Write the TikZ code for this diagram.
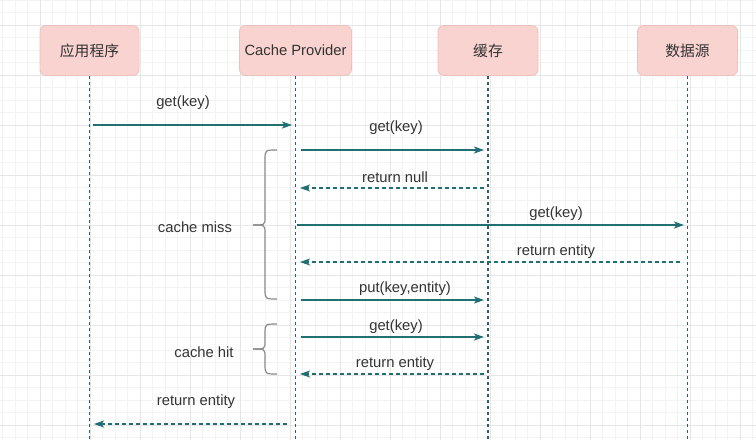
\documentclass[tikz,border=0pt]{standalone}
\usepackage{fontspec}
\setmainfont{Liberation Sans}
\newfontfamily\cjk{Noto Sans CJK SC}
\usetikzlibrary{arrows.meta}
\definecolor{gridminor}{HTML}{F3F3F3}
\definecolor{gridmajor}{HTML}{E6E6E6}
\definecolor{boxfill}{HTML}{F9D3CF}
\definecolor{boxline}{HTML}{EBC2BE}
\definecolor{msg}{HTML}{216E75}
\definecolor{life}{HTML}{2E5F68}
\definecolor{txt}{HTML}{333333}
\definecolor{bracec}{HTML}{8A8A8A}
\tikzset{
  actor/.style={draw=boxline, fill=boxfill, line width=0.8pt, rounded corners=6pt,
    minimum height=50pt, inner sep=0pt, text=txt, font=\fontsize{14.8}{16}\selectfont},
  lifeline/.style={draw=life, line width=1.4pt, dash pattern=on 3pt off 3pt},
  callmsg/.style={draw=msg, line width=1.4pt, -{Stealth[length=10pt,width=7pt,inset=2.5pt]}},
  retmsg/.style={draw=msg, line width=1.2pt, dash pattern=on 4pt off 3pt, -{Stealth[length=10pt,width=7pt,inset=2.5pt]}},
  lbl/.style={text=txt, font=\fontsize{14.8}{16}\selectfont, inner sep=0pt},
  bracepath/.style={draw=bracec, line width=1.2pt},
}
\newcommand{\drawbrace}[3]{% top y, bottom y, mid y
  \draw[bracepath] (277,#1) .. controls (265,#1) .. (265,#1+10) -- (265,#3-8)
     .. controls (265,#3) .. (253,#3);
  \draw[bracepath] (253,#3) .. controls (265,#3) .. (265,#3+8) -- (265,#2-10)
     .. controls (265,#2) .. (277,#2);
}
\begin{document}
\begin{tikzpicture}[x=1pt,y=-1pt]
\useasboundingbox (0,0) rectangle (756,440);
\fill[white] (0,0) rectangle (756,440);
% grid
\foreach \i in {0,...,60} {
  \draw[gridminor, line width=0.7pt] ({2.5+12.5*\i},0) -- ({2.5+12.5*\i},440);
}
\foreach \i in {0,...,35} {
  \draw[gridminor, line width=0.7pt] (0,{12.5*\i}) -- (756,{12.5*\i});
}
\foreach \i in {0,...,15} {
  \draw[gridmajor, line width=0.9pt] ({40+50*\i},0) -- ({40+50*\i},440);
}
\foreach \i in {0,...,8} {
  \draw[gridmajor, line width=0.9pt] (0,{25+50*\i}) -- (756,{25+50*\i});
}
% actors
\node[actor, minimum width=99pt] (app) at (89.5,50.5) {\cjk 应用程序};
\node[actor, minimum width=112pt] (prov) at (295.5,50.5) {Cache Provider};
\node[actor, minimum width=100pt] (cache) at (488,50.5) {\cjk 缓存};
\node[actor, minimum width=100pt] (db) at (687.5,50.5) {\cjk 数据源};
% lifeline ends
\coordinate (appE) at (89,440);
\coordinate (provE) at (295,440);
\coordinate (cacheE) at (488,440);
\coordinate (dbE) at (687,440);
\draw[lifeline] (app.south) -- (app.south |- appE);
\draw[lifeline] (prov.south) -- (prov.south |- provE);
\draw[lifeline] (cache.south) -- (cache.south |- cacheE);
\draw[lifeline] (db.south) -- (db.south |- dbE);
% message end points
\coordinate (m1a) at (93,125);  \coordinate (m1b) at (292,125);
\coordinate (m2a) at (301,150); \coordinate (m2b) at (484,150);
\coordinate (m3a) at (484,188); \coordinate (m3b) at (300,188);
\coordinate (m4a) at (297,225); \coordinate (m4b) at (684,225);
\coordinate (m5a) at (680,262); \coordinate (m5b) at (300,262);
\coordinate (m6a) at (301,300); \coordinate (m6b) at (484,300);
\coordinate (m7a) at (301,337); \coordinate (m7b) at (484,337);
\coordinate (m8a) at (484,374); \coordinate (m8b) at (300,374);
\coordinate (m9a) at (287,424); \coordinate (m9b) at (94,424);
\draw[callmsg] (m1a) -- (m1b);
\draw[callmsg] (m2a) -- (m2b);
\draw[retmsg] (m3a) -- (m3b);
\draw[callmsg] (m4a) -- (m4b);
\draw[retmsg] (m5a) -- (m5b);
\draw[callmsg] (m6a) -- (m6b);
\draw[callmsg] (m7a) -- (m7b);
\draw[retmsg] (m8a) -- (m8b);
\draw[retmsg] (m9a) -- (m9b);
% labels
\node[lbl] (l1) at (183,103) {get(key)};
\node[lbl] (l2) at (396,128) {get(key)};
\node[lbl] (l3) at (395,177) {return null};
\node[lbl] (l4) at (556,214) {get(key)};
\node[lbl] (l5) at (556,252) {return entity};
\node[lbl] (l6) at (405,289) {put(key,entity)};
\node[lbl] (l7) at (396,327) {get(key)};
\node[lbl] (l8) at (395,364) {return entity};
\node[lbl] (l9) at (196,402) {return entity};
% braces
\drawbrace{150}{299}{225}
\drawbrace{324}{374}{349}
\node[lbl] (miss) at (195,227) {cache miss};
\node[lbl] (hit) at (204,352) {cache hit};
\end{tikzpicture}
\end{document}
